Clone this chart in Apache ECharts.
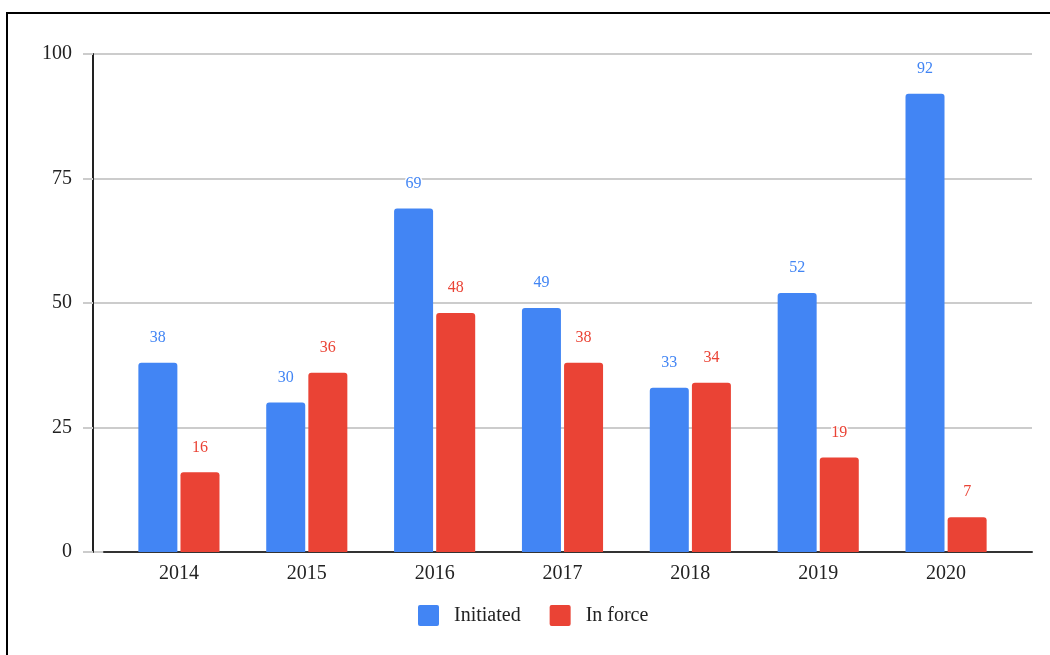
<!DOCTYPE html>
<html>
<head>
<meta charset="utf-8">
<script src="https://cdn.jsdelivr.net/npm/echarts@6/dist/echarts.min.js"></script>
<style>
  html, body { margin: 0; padding: 0; background: #fff; overflow: hidden; }
  #chart { position: absolute; left: 0; top: 0; width: 1050px; height: 655px; }
  #frame { position: absolute; left: 6px; top: 12px; width: 1100px; height: 700px;
           border: 2px solid #000; pointer-events: none; }
</style>
</head>
<body>
<div id="chart"></div>
<div id="frame"></div>
<script>
// Yearly counts
const years = ['2014', '2015', '2016', '2017', '2018', '2019', '2020'];
const initiated = [38, 30, 69, 49, 33, 52, 92];
const inForce = [16, 36, 48, 38, 34, 19, 7];
const yTicks = [0, 25, 50, 75, 100];

const BLUE = '#4285F4';
const RED = '#EA4335';
const FONT = '"Liberation Serif", "Times New Roman", serif';
// small square with slightly rounded corners for the legend keys
const KEY_ICON = 'path://M2,0 H19 Q21,0 21,2 V19 Q21,21 19,21 H2 Q0,21 0,19 V2 Q0,0 2,0 Z';

const chart = echarts.init(document.getElementById('chart'), null, { renderer: 'canvas' });

const labelStyle = (color) => ({
  show: true,
  position: 'top',
  distance: 17,
  color: color,
  fontFamily: FONT,
  fontSize: 16,
  textBorderColor: '#fff',
  textBorderWidth: 3
});

chart.setOption({
  animation: false,
  backgroundColor: '#fff',
  grid: [
    // value axis with gridlines
    { left: 93, right: 18, top: 54, bottom: 103 },
    // bars
    { left: 115, right: 40, top: 54, bottom: 103 },
    // baseline
    { left: 104, right: 18, top: 54, bottom: 103 }
  ],
  xAxis: [
    { gridIndex: 0, type: 'value', show: false, min: 0, max: 1 },
    {
      gridIndex: 1, type: 'category', data: years,
      axisLine: { show: false }, axisTick: { show: false },
      axisLabel: { margin: 12, color: '#222', fontFamily: FONT, fontSize: 20 }
    },
    {
      gridIndex: 2, type: 'value', min: 0, max: 1,
      axisLine: { show: true, lineStyle: { color: '#333', width: 2 } },
      axisTick: { show: false }, axisLabel: { show: false }, splitLine: { show: false }
    }
  ],
  yAxis: [
    {
      gridIndex: 0, type: 'value', min: 0, max: 100, interval: 25,
      axisLine: { show: true, lineStyle: { color: '#222', width: 2 } },
      axisTick: { show: true, length: 10, lineStyle: { color: '#ccc', width: 2 } },
      axisLabel: {
        margin: 21, color: '#222', fontFamily: FONT, fontSize: 20,
        formatter: (v) => (yTicks.includes(v) ? String(v) : '')
      },
      splitLine: { show: true, lineStyle: { color: '#ccc', width: 2 } }
    },
    { gridIndex: 1, type: 'value', min: 0, max: 100, show: false },
    { gridIndex: 2, type: 'value', min: 0, max: 100, show: false }
  ],
  legend: {
    left: 418, top: 605, padding: 0,
    itemWidth: 21, itemHeight: 21, itemGap: 29,
    icon: KEY_ICON,
    textStyle: { color: '#222', fontFamily: FONT, fontSize: 20, padding: [0, 0, 0, 10] },
    data: ['Initiated', 'In force']
  },
  series: [
    {
      name: 'Initiated', type: 'bar', xAxisIndex: 1, yAxisIndex: 1,
      data: initiated, barWidth: 39, barGap: '8%',
      itemStyle: { color: BLUE, borderRadius: [3, 3, 0, 0] },
      label: labelStyle(BLUE)
    },
    {
      name: 'In force', type: 'bar', xAxisIndex: 1, yAxisIndex: 1,
      data: inForce, barWidth: 39, barGap: '8%',
      itemStyle: { color: RED, borderRadius: [3, 3, 0, 0] },
      label: labelStyle(RED)
    }
  ]
});
</script>
</body>
</html>
